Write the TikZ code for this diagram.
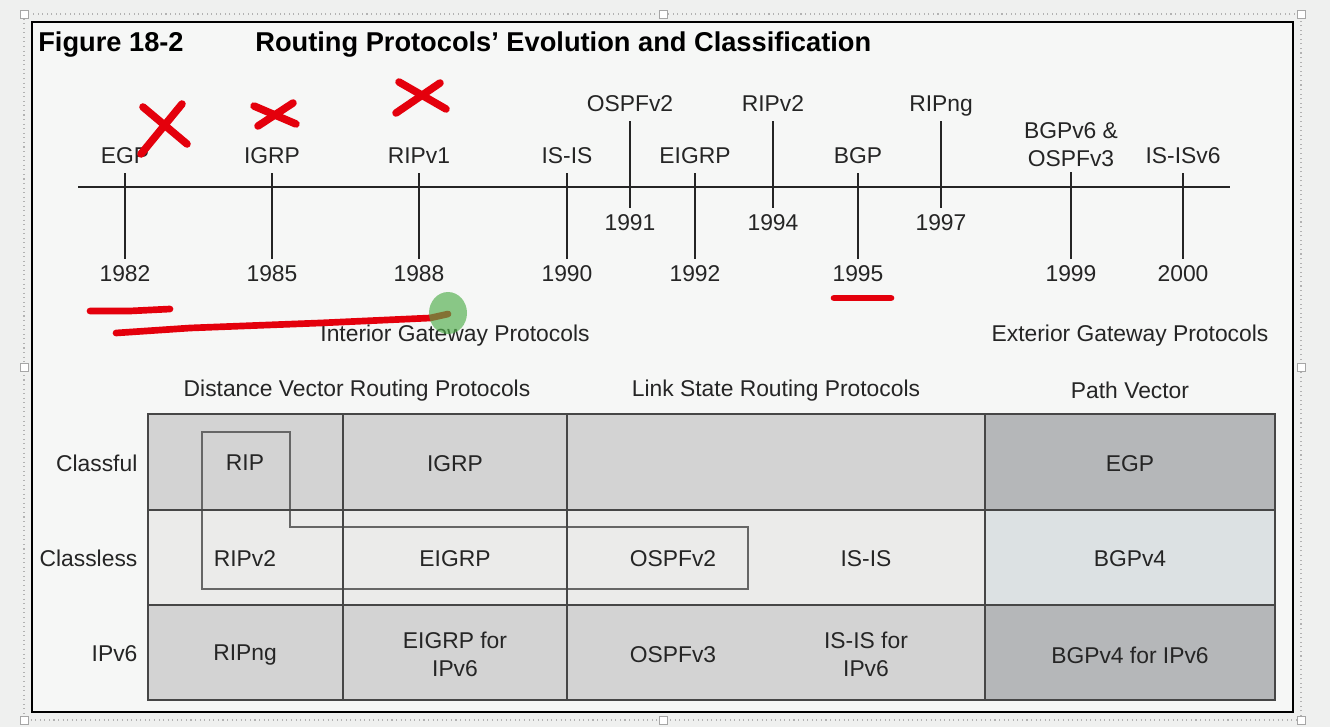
\documentclass[tikz,border=0pt]{standalone}
\usepackage{fontspec}
\setmainfont{Liberation Sans}
\usepackage{tikz}
\usetikzlibrary{positioning}

\definecolor{screenbg}{HTML}{EFF0EF}
\definecolor{pagebg}{HTML}{F6F7F6}
\definecolor{ink}{HTML}{252525}
\definecolor{rowdark}{HTML}{D3D3D3}
\definecolor{rowlight}{HTML}{EBEBEA}
\definecolor{pvdark}{HTML}{B5B7B9}
\definecolor{pvlight}{HTML}{DCE1E3}
\definecolor{penred}{HTML}{E4000C}
\definecolor{pengreen}{HTML}{4FAE4A}

\begin{document}
\begin{tikzpicture}[x=0.02cm, y=-0.02cm,
    evt/.style={font={\fontsize{13pt}{16pt}\selectfont}, text=ink, inner sep=3pt},
    tl/.style={evt, text height=9.5pt, text depth=2.5pt},
    grid line/.style={draw=ink!85, line width=1.1pt},
    tick/.style={draw=ink, line width=0.85pt},
    pen/.style={draw=penred, line width=4.3pt, line cap=round, line join=round},
    handle/.style={draw=gray!70, fill=white, line width=0.5pt}]
    \useasboundingbox (0,0) rectangle (1330,727);
    \fill[screenbg] (0,0) rectangle (1330,727);

    % selection frame of the slide
    \draw[gray!60, dotted, line width=0.6pt] (24,14) rectangle (1301,720);
    \foreach \hx/\hy in {24/14, 663/14, 1301/14, 24/367, 1301/367, 24/720, 663/720, 1301/720}
        \draw[handle] (\hx-4,\hy-4) rectangle (\hx+4,\hy+4);
    \fill[pagebg] (32,22) rectangle (1293,712);
    \draw[black, line width=1.6pt] (32,22) rectangle (1293,712);

    % title
    \node[anchor=west, inner sep=0pt, font={\fontsize{15.5pt}{18pt}\selectfont\bfseries}] (fig) at (38,45) {Figure 18-2};
    \node[anchor=west, inner sep=0pt, font={\fontsize{15.5pt}{18pt}\selectfont\bfseries}] (title) at (255,45) {Routing Protocols’ Evolution and Classification};

    % timeline
    \coordinate (tl start) at (78,187);
    \coordinate (tl end) at (1230,187);
    \draw[tick] (tl start) -- (tl end);

    \foreach \nm/\xx/\lab/\yr in {egp/125/EGP/1982, igrp/272/IGRP/1985, ripa/419/RIPv1/1988,
        isis/567/IS-IS/1990, eigrp/695/EIGRP/1992, bgp/858/BGP/1995, isisv/1183/IS-ISv6/2000}{
        \node[tl] (\nm) at (\xx,157) {\lab};
        \node[tl] (\nm-yr) at (\xx,275) {\yr};
        \draw[tick] (\nm) -- (\nm-yr);
    }
    \foreach \nm/\xx/\lab/\yr in {ospf/630/OSPFv2/1991, ripb/773/RIPv2/1994, ripng/941/RIPng/1997}{
        \node[tl] (\nm) at (\xx,105) {\lab};
        \node[tl] (\nm-yr) at (\xx,224) {\yr};
        \draw[tick] (\nm) -- (\nm-yr);
    }
    \node[evt, align=center, anchor=south] (bgpv) at (1071,172) {BGPv6 \&\\OSPFv3};
    \node[tl] (bgpv-yr) at (1071,275) {1999};
    \draw[tick] (bgpv) -- (bgpv-yr);

    % group labels
    \node[evt] (igp) at (455,336) {Interior Gateway Protocols};
    \node[evt] (egpl) at (1130,336) {Exterior Gateway Protocols};
    \node[evt] (dv) at (357,391) {Distance Vector Routing Protocols};
    \node[evt] (ls) at (776,391) {Link State Routing Protocols};
    \node[evt] (pv) at (1130,390) {Path Vector};

    % table
    \fill[rowdark] (148,414) rectangle (985,510);
    \fill[pvdark] (985,414) rectangle (1275,510);
    \fill[rowlight] (148,510) rectangle (985,605);
    \fill[pvlight] (985,510) rectangle (1275,605);
    \fill[rowdark] (148,605) rectangle (985,700);
    \fill[pvdark] (985,605) rectangle (1275,700);
    \draw[gray!80!black, line width=1.2pt] (202,432) -- (290,432) -- (290,527) -- (748,527)
        -- (748,589) -- (202,589) -- cycle;
    \draw[grid line] (148,414) rectangle (1275,700);
    \foreach \cx in {343, 567, 985}
        \draw[grid line] (\cx,414) -- (\cx,700);
    \foreach \ry in {510, 605}
        \draw[grid line] (148,\ry) -- (1275,\ry);

    \node[evt, anchor=east] (classful) at (143,463) {Classful};
    \node[evt, anchor=east] (classless) at (143,558) {Classless};
    \node[evt, anchor=east] (ipv6) at (143,654) {IPv6};

    \node[evt] (rip) at (245,463) {RIP};
    \node[evt] (igrp-c) at (455,464) {IGRP};
    \node[evt] (egp-c) at (1130,464) {EGP};
    \node[evt] (ripv2-c) at (245,559) {RIPv2};
    \node[evt] (eigrp-c) at (455,559) {EIGRP};
    \node[evt] (ospfv2-c) at (673,559) {OSPFv2};
    \node[evt] (isis-c) at (866,559) {IS-IS};
    \node[evt] (bgpv4-c) at (1130,559) {BGPv4};
    \node[evt] (ripng-c) at (245,655) {RIPng};
    \node[evt, align=center] (eigrp6-c) at (455,654) {EIGRP for\\IPv6};
    \node[evt] (ospfv3-c) at (673,655) {OSPFv3};
    \node[evt, align=center] (isis6-c) at (866,654) {IS-IS for\\IPv6};
    \node[evt] (bgp6-c) at (1130,655) {BGPv4 for IPv6};

    % pen marks
    \draw[pen] (141,154) -- (182,104);
    \draw[pen] (143,107) -- (187,144);
    \draw[pen] (254,106) -- (296,124);
    \draw[pen] (258,126) -- (293,103);
    \draw[pen] (396,113) -- (440,83);
    \draw[pen] (399,82) -- (446,109);
    \draw[pen, line width=3.8pt] (90,311) -- (130,311) -- (170,309);
    \draw[pen, line width=3.8pt] (116,333) -- (190,328) -- (320,323) -- (430,318) -- (448,314);
    \draw[pen, line width=3.8pt] (834,298) -- (891,298);
    \fill[pengreen, opacity=0.65] (448,313) ellipse (19 and 21);
\end{tikzpicture}
\end{document}
